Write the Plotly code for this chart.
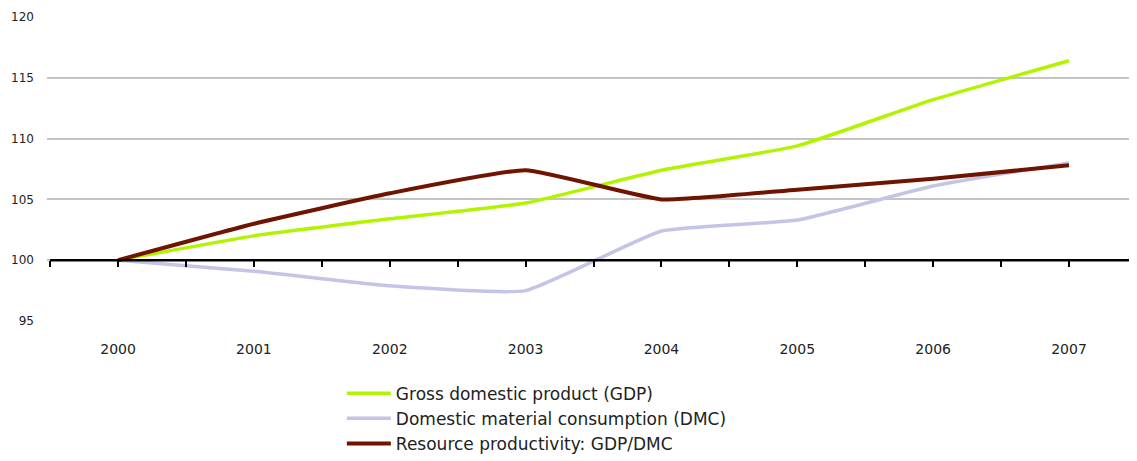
import plotly.graph_objects as go

years = [2000, 2001, 2002, 2003, 2004, 2005, 2006, 2007]
gdp = [100, 102.0, 103.4, 104.7, 107.4, 109.4, 113.2, 116.4]
dmc = [100, 99.1, 97.9, 97.5, 102.4, 103.3, 106.1, 108.0]
rp = [100, 103.0, 105.5, 107.4, 105.0, 105.8, 106.7, 107.8]
names = ["Gross domestic product (GDP)",
         "Domestic material consumption (DMC)",
         "Resource productivity: GDP/DMC"]
colors = ["#b2f400", "#c4c4e6", "#6e1400"]
widths = [3.5, 3.5, 4]
y_ticks = [95, 100, 105, 110, 115, 120]
half_ticks = [1999.5 + 0.5 * i for i in range(17)]

fig = go.Figure()
for vals, name, col, w in zip([gdp, dmc, rp], names, colors, widths):
    fig.add_trace(go.Scatter(x=years, y=vals, name=name, mode="lines",
                             line=dict(color=col, width=w, shape="spline", smoothing=0.4)))

# axis-crossing line at 100 with half-year ticks
fig.add_trace(go.Scatter(x=[half_ticks[0], half_ticks[-1]], y=[100, 100], xaxis="x2",
                         mode="lines", line=dict(color="black", width=2.5),
                         showlegend=False, hoverinfo="skip"))

xr = [1999.477, 2007.486]
font = dict(family="DejaVu Sans, Verdana, sans-serif", color="#222222")
fig.update_layout(
    width=1137, height=461,
    margin=dict(l=39, r=10, t=9, b=147),
    paper_bgcolor="white", plot_bgcolor="white",
    font=dict(size=13, **font),
    showlegend=True,
    legend=dict(x=0.271, y=-0.176, xanchor="left", yanchor="top",
                font=dict(size=17, **font), tracegroupgap=0,
                itemwidth=44, traceorder="normal"),
    xaxis=dict(range=xr, tickvals=years, ticktext=[str(y) for y in years],
               showgrid=False, showline=False, ticks="", zeroline=False, automargin=False,
               ticklabelstandoff=18, tickfont=dict(size=14, **font)),
    xaxis2=dict(range=xr, overlaying="x", anchor="free", position=0.2,
                side="bottom", tickvals=half_ticks, showticklabels=False, automargin=False,
                ticks="outside", ticklen=6, tickwidth=2, tickcolor="black",
                showgrid=False, showline=False, zeroline=False),
    yaxis=dict(range=[95, 120], tickvals=y_ticks, showgrid=True, gridcolor="#c4c4c4",
               gridwidth=2, zeroline=False, showline=False, ticks="", automargin=False,
               ticklabelstandoff=12, tickfont=dict(size=12, **font)),
)
fig.write_html("out.html")
